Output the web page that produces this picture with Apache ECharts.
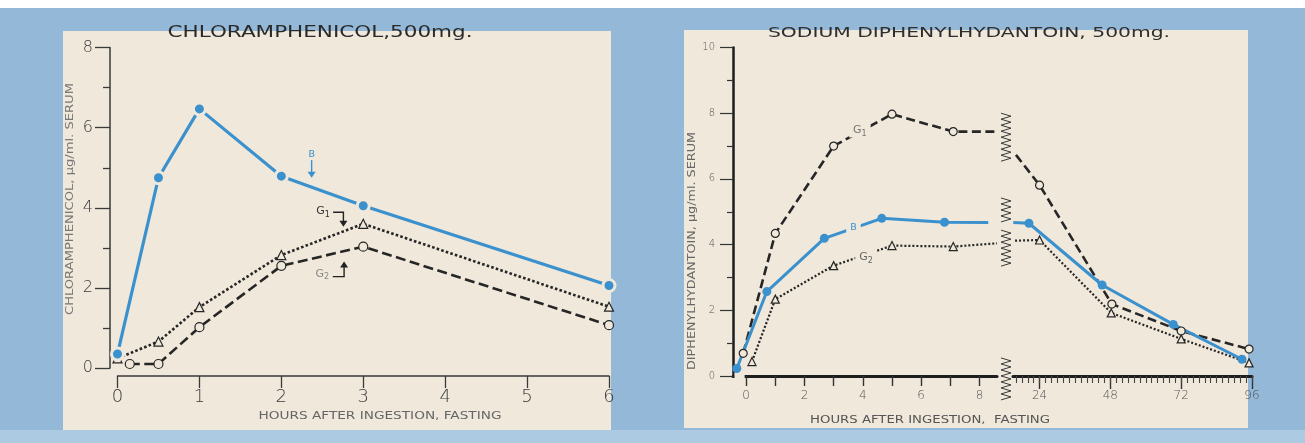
<!DOCTYPE html>
<html><head><meta charset="utf-8">
<script src="https://cdn.jsdelivr.net/npm/echarts@6/dist/echarts.min.js"></script>
<style>html,body{margin:0;padding:0;background:#93b8d8;}#c{width:1305px;height:443px;}</style>
</head><body><div id="c"></div>
<script>
// ---------- data ----------
// Left: Chloramphenicol 500 mg (µg/ml serum vs hours)
const chlorHours   = [0, 0.5, 1, 2, 3, 6];
const chlorB       = [0.35, 4.75, 6.47, 4.79, 4.05, 2.06];
const chlorG1      = [0.24, 0.66, 1.52, 2.82, 3.60, 1.53];
const chlorG2Hours = [0.15, 0.5, 1, 2, 3, 6];
const chlorG2      = [0.1, 0.1, 1.02, 2.55, 3.03, 1.07];
const chlorXTicks  = [0, 1, 2, 3, 4, 5, 6];

// Right: Sodium diphenylhydantoin 500 mg (broken hour axis)
const dphHoursG1 = [-0.1, 1, 3, 5, 7.1, 24, 48.5, 72, 95];
const dphG1      = [0.69, 4.34, 7.00, 7.97, 7.44, 5.81, 2.19, 1.37, 0.82];
const dphG1Break = [[8.6, 7.44], [16.0, 6.73]];
const dphHoursG2 = [0.2, 1, 3, 5, 7.1, 24, 48.3, 72, 95];
const dphG2      = [0.44, 2.34, 3.36, 3.97, 3.94, 4.14, 1.92, 1.13, 0.40];
const dphG2Break = [[8.6, 4.04], [15.7, 4.12]];
const dphHoursB  = [-0.32, 0.71, 2.68, 4.65, 6.8, 20.4, 45.2, 69.3, 92.6];
const dphB       = [0.23, 2.57, 4.19, 4.80, 4.68, 4.65, 2.77, 1.57, 0.51];
const dphBBreak  = [[8.3, 4.67], [15.1, 4.67]];
const dphXLabelsA = [0, 2, 4, 6, 8];
const dphXTicksA  = [0, 1, 2, 3, 4, 5, 6, 7, 8];
const dphXLabelsB = [24, 48, 72, 96];

// annotation anchors (data coordinates)
const chlorLabelB  = [2.37, 5.34];
const chlorLabelG1 = [2.51, 3.92];
const chlorLabelG2 = [2.50, 2.35];
const dphLabelG1 = [3.90, 7.49];
const dphLabelB  = [3.68, 4.51];
const dphLabelG2 = [4.11, 3.61];
const dphBreakMarks = [[8.0, 6.48], [5.42, 4.66], [4.44, 3.29], [0.55, -0.73]];

// ---------- styling ----------
const cream = '#efe8db';
const dark = '#262626';
const blue = '#3a91cd';
const FF = '"DejaVu Sans", sans-serif';

const dphXMinorB = [];
for (let h = 16; h <= 96; h += 2) dphXMinorB.push(h);

function pairs(h, v) { return h.map((x, i) => [x, v[i]]); }
function split(h, v, brk) {
  const pts = pairs(h, v);
  const a = pts.filter(p => p[0] < 12);
  const b = pts.filter(p => p[0] >= 12);
  return [a.concat([{ value: brk[0], symbol: 'none' }]), [{ value: brk[1], symbol: 'none' }].concat(b)];
}

const chart = echarts.init(document.getElementById('c'), null, { renderer: 'canvas' });

const lab = (size, color, margin) => ({ fontSize: size, color: color, fontFamily: FF, fontWeight: 300, margin: margin });

const g1Seg = split(dphHoursG1, dphG1, dphG1Break);
const g2Seg = split(dphHoursG2, dphG2, dphG2Break);
const bSeg = split(dphHoursB, dphB, dphBBreak);

const hollow = (sym, size) => ({ symbol: sym, symbolSize: size, itemStyle: { color: cream, borderColor: dark, borderWidth: 1.2 } });

const option = {
  backgroundColor: '#93b8d8',
  animation: false,
  grid: [
    { left: 117.5, top: 47.6, width: 491.5, height: 320.4 },
    { left: 733, top: 47.5, width: 264, height: 328.5 },
    { left: 1013, top: 47.5, width: 239, height: 328.5 }
  ],
  xAxis: [
    { gridIndex: 0, type: 'value', min: 0, max: 6, interval: 1, offset: 8,
      axisLine: { onZero: false, lineStyle: { color: '#3a3a3a', width: 1.5 } },
      axisTick: { length: 12, lineStyle: { color: '#3a3a3a', width: 1.3 } },
      axisLabel: lab(18, '#3a3a3a', 12), splitLine: { show: false } },
    { gridIndex: 1, type: 'value', min: -0.45, max: 8.6, position: 'bottom',
      axisLine: { onZero: false, lineStyle: { color: '#1e1e1e', width: 3 } },
      axisTick: { length: 10, customValues: dphXTicksA, lineStyle: { color: '#333', width: 1.4 } },
      axisLabel: Object.assign(lab(12, '#555', 14), { customValues: dphXLabelsA }), splitLine: { show: false } },
    { gridIndex: 2, type: 'value', min: 15, max: 96, position: 'bottom',
      axisLine: { onZero: false, lineStyle: { color: '#1e1e1e', width: 3 } },
      axisTick: { length: 13, customValues: dphXLabelsB, lineStyle: { color: '#333', width: 1.4 } },
      axisLabel: Object.assign(lab(12, '#555', 14), { customValues: dphXLabelsB }), splitLine: { show: false } },
    { gridIndex: 2, type: 'value', min: 15, max: 96, position: 'bottom',
      axisLine: { show: false, onZero: false },
      axisTick: { length: 7, customValues: dphXMinorB, lineStyle: { color: '#444', width: 1.1 } },
      axisLabel: { show: false }, splitLine: { show: false } }
  ],
  yAxis: [
    { gridIndex: 0, type: 'value', min: 0, max: 8, interval: 2, offset: 7.5,
      axisLine: { show: true, onZero: false, lineStyle: { color: '#3a3a3a', width: 1.5 } },
      axisTick: { show: true, length: 15, lineStyle: { color: '#3a3a3a', width: 1.3 } },
      minorTick: { show: true, splitNumber: 2, length: 7, lineStyle: { color: '#3a3a3a', width: 1.3 } },
      axisLabel: lab(16, '#3a3a3a', 17), splitLine: { show: false } },
    { gridIndex: 1, type: 'value', min: 0, max: 10, interval: 2,
      axisLine: { show: true, onZero: false, lineStyle: { color: '#1e1e1e', width: 2.5 } },
      axisTick: { show: true, length: 13, lineStyle: { color: '#333', width: 1.2 } },
      minorTick: { show: true, splitNumber: 2, length: 6, lineStyle: { color: '#333', width: 1.2 } },
      axisLabel: lab(10, '#555', 18), splitLine: { show: false } },
    { gridIndex: 2, type: 'value', min: 0, max: 10, show: false }
  ],
  series: [
    Object.assign({ type: 'line', xAxisIndex: 0, yAxisIndex: 0, data: pairs(chlorHours, chlorG1),
      lineStyle: { color: dark, width: 2.6, type: [2.6, 2.2] } }, hollow('triangle', 9)),
    Object.assign({ type: 'line', xAxisIndex: 0, yAxisIndex: 0, data: pairs(chlorG2Hours, chlorG2),
      lineStyle: { color: dark, width: 2.6, type: [10, 4.5] } }, hollow('circle', 9)),
    { type: 'line', xAxisIndex: 0, yAxisIndex: 0, data: pairs(chlorHours, chlorB),
      symbol: 'circle', symbolSize: 12, itemStyle: { color: blue, borderColor: cream, borderWidth: 3 },
      lineStyle: { color: blue, width: 3.2 } },

    Object.assign({ type: 'line', xAxisIndex: 1, yAxisIndex: 1, data: g1Seg[0],
      lineStyle: { color: dark, width: 2.6, type: [9, 4.5] } }, hollow('circle', 8)),
    Object.assign({ type: 'line', xAxisIndex: 2, yAxisIndex: 2, data: g1Seg[1],
      lineStyle: { color: dark, width: 2.6, type: [9, 4.5] } }, hollow('circle', 8)),
    Object.assign({ type: 'line', xAxisIndex: 1, yAxisIndex: 1, data: g2Seg[0],
      lineStyle: { color: dark, width: 2.2, type: [2, 2] } }, hollow('triangle', 8)),
    Object.assign({ type: 'line', xAxisIndex: 2, yAxisIndex: 2, data: g2Seg[1],
      lineStyle: { color: dark, width: 2.2, type: [2, 2] } }, hollow('triangle', 8)),
    { type: 'line', xAxisIndex: 1, yAxisIndex: 1, data: bSeg[0],
      symbol: 'circle', symbolSize: 9, itemStyle: { color: blue }, lineStyle: { color: blue, width: 3 } },
    { type: 'line', xAxisIndex: 2, yAxisIndex: 2, data: bSeg[1],
      symbol: 'circle', symbolSize: 9, itemStyle: { color: blue }, lineStyle: { color: blue, width: 3 } }
  ]
};
option.series.forEach(s => { s.emphasis = { disabled: true }; s.silent = true; });
chart.setOption(option);

// ---------- decorations & annotations ----------
const ctx = document.createElement('canvas').getContext('2d');
function stretchedText(text, cx, cy, font, target, color, rot) {
  ctx.font = font;
  const w = ctx.measureText(text).width;
  return { type: 'text', x: cx, y: cy, rotation: rot || 0, scaleX: target / w, z: 50, silent: true,
    style: { text: text, font: font, fill: color, textAlign: 'center', textVerticalAlign: 'middle', align: 'center', verticalAlign: 'middle' } };
}
const P = (gi, d) => chart.convertToPixel({ gridIndex: gi }, d);
const els = [];
// page & panels
els.push({ type: 'rect', z: -10, silent: true, shape: { x: 0, y: 0, width: 1305, height: 8 }, style: { fill: '#ffffff' } });
els.push({ type: 'rect', z: -10, silent: true, shape: { x: 0, y: 430, width: 1305, height: 13 }, style: { fill: '#adcae3' } });
els.push({ type: 'rect', z: -10, silent: true, shape: { x: 63, y: 31, width: 548, height: 399 }, style: { fill: cream } });
els.push({ type: 'rect', z: -10, silent: true, shape: { x: 684, y: 30, width: 564, height: 398 }, style: { fill: cream } });
// gap between the y axis and the start of the hour axis (right chart)
const x0 = P(1, [0, 0]);
els.push({ type: 'rect', z: 1, silent: true, shape: { x: 734.5, y: x0[1] - 3, width: x0[0] - 736, height: 6 }, style: { fill: cream } });
// titles and axis names
els.push(stretchedText('CHLORAMPHENICOL,500mg.', 320, 33, '16px ' + FF, 305, '#2a2a2a'));
els.push(stretchedText('SODIUM DIPHENYLHYDANTOIN, 500mg.', 969, 33, '14px ' + FF, 402, '#2e2e2e'));
els.push(stretchedText('HOURS AFTER INGESTION, FASTING', 380, 416, '11px ' + FF, 243, '#666'));
els.push(stretchedText('HOURS AFTER INGESTION,  FASTING', 930, 420, '11px ' + FF, 240, '#555'));
els.push(stretchedText('CHLORAMPHENICOL, µg/ml. SERUM', 70, 199, '10.5px ' + FF, 232, '#777', Math.PI / 2));
els.push(stretchedText('DIPHENYLHYDANTOIN, µg/ml. SERUM', 692, 251, '10px ' + FF, 238, '#666', Math.PI / 2));

function gLabel(idx, p, color, bg) {
  const e = { type: 'text', x: p[0], y: p[1], z: 100, silent: true,
    style: { text: '{a|G}{b|' + idx + '}', fill: color, textAlign: 'center', textVerticalAlign: 'middle', align: 'center', verticalAlign: 'middle',
      rich: { a: { fontSize: 11, fontFamily: FF, fill: color }, b: { fontSize: 8, fontFamily: FF, fill: color, padding: [7, 0, 0, 0] } } } };
  if (bg) { e.style.backgroundColor = cream; e.style.padding = [0, 4]; }
  return e;
}
function arrowHead(x, y, dir, color) { // dir 1 = down, -1 = up
  return { type: 'polygon', z: 100, silent: true, shape: { points: [[x, y], [x - 4, y - 6 * dir], [x + 4, y - 6 * dir]] }, style: { fill: color } };
}
function pl(points, color, w) {
  return { type: 'polyline', z: 100, silent: true, shape: { points: points }, style: { stroke: color, lineWidth: w, fill: null } };
}
// left annotations
let c = P(0, chlorLabelB);
els.push({ type: 'text', x: c[0], y: c[1], z: 100, silent: true, style: { text: 'B', font: '9.5px ' + FF, fill: blue, textAlign: 'center', textVerticalAlign: 'middle', align: 'center', verticalAlign: 'middle' } });
els.push(pl([[c[0], c[1] + 6], [c[0], c[1] + 20]], blue, 1.4));
els.push(arrowHead(c[0], c[1] + 23.5, 1, blue));
c = P(0, chlorLabelG1);
els.push(gLabel(1, c, '#333', false));
els.push(pl([[c[0] + 10, c[1] + 1.3], [c[0] + 20.3, c[1] + 1.3], [c[0] + 20.3, c[1] + 12]], '#222', 1.4));
els.push(arrowHead(c[0] + 20.3, c[1] + 15.7, 1, '#222'));
c = P(0, chlorLabelG2);
els.push(gLabel(2, c, '#888', false));
els.push(pl([[c[0] + 10.5, c[1] + 2.7], [c[0] + 21.8, c[1] + 2.7], [c[0] + 21.8, c[1] - 8]], '#222', 1.4));
els.push(arrowHead(c[0] + 21.8, c[1] - 12.3, -1, '#222'));
// right annotations
c = P(1, dphLabelG1); els.push(gLabel(1, c, '#777', true));
c = P(1, dphLabelG2); els.push(gLabel(2, c, '#666', true));
c = P(1, dphLabelB);
els.push({ type: 'text', x: c[0], y: c[1], z: 100, silent: true, style: { text: 'B', font: '9.5px ' + FF, fill: blue, backgroundColor: cream, padding: [0, 4], textAlign: 'center', textVerticalAlign: 'middle', align: 'center', verticalAlign: 'middle' } });
// break zigzags
const xa = P(1, [8.6, 0])[0];
const xb = chart.convertToPixel({ xAxisIndex: 2, yAxisIndex: 2 }, [15, 0])[0];
const zx = (xa + xb) / 2 + 1;
dphBreakMarks.forEach(r => {
  const y1 = P(1, [0, r[0]])[1], y2 = P(1, [0, r[1]])[1];
  const pts = []; let k = 0;
  for (let y = y1; y <= y2; y += 3) { pts.push([zx + (k % 2 ? 5 : -5), y]); k++; }
  els.push(pl(pts, '#3a3a3a', 1));
});
chart.setOption({ graphic: { elements: els } });
</script>
</body></html>
